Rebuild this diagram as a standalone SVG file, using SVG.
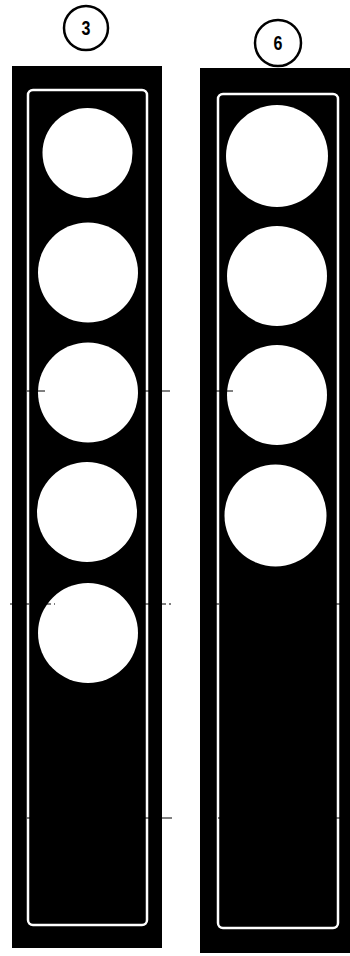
<svg xmlns="http://www.w3.org/2000/svg" width="350" height="956" viewBox="0 0 350 956">
<style>
.bg{fill:#fff}
.panel{fill:#000}
.frame{fill:none;stroke:#fff;stroke-width:2.5}
.hole{fill:#fff}
.lbl{fill:none;stroke:#000;stroke-width:2.5}
.num{font-family:"Liberation Sans",Arial,sans-serif;font-weight:bold;font-size:20px;fill:#000;text-anchor:middle}
.mark{stroke:#000;stroke-width:1}
.markw{stroke:#fff;stroke-width:1}
</style>
<rect class="bg" x="0" y="0" width="350" height="956"/>
<g id="label-3">
<circle class="lbl" cx="86" cy="28" r="22"/>
<text class="num" x="86" y="35" transform="translate(86 0) scale(0.8 1) translate(-86 0)">3</text>
</g>
<g id="label-6">
<circle class="lbl" cx="278" cy="43" r="23"/>
<text class="num" x="278" y="50" transform="translate(278 0) scale(0.8 1) translate(-278 0)">6</text>
</g>
<g id="panel-3">
<rect class="panel" x="12" y="66" width="150" height="882"/>
<rect class="frame" x="28" y="90" width="119" height="835" rx="5"/>
<circle class="hole" cx="87.5" cy="153" r="45"/>
<circle class="hole" cx="88" cy="272.5" r="50"/>
<circle class="hole" cx="88" cy="392.5" r="50"/>
<circle class="hole" cx="87" cy="512" r="50"/>
<circle class="hole" cx="88" cy="633" r="50"/>
</g>
<g id="panel-6">
<rect class="panel" x="200" y="68" width="150" height="885"/>
<rect class="frame" x="218" y="94" width="120" height="834" rx="5"/>
<circle class="hole" cx="277" cy="156" r="51"/>
<circle class="hole" cx="277" cy="276" r="50"/>
<circle class="hole" cx="277" cy="395" r="50"/>
<circle class="hole" cx="275.5" cy="515.5" r="51"/>
</g>
<g id="connectors">
<line class="mark" x1="27" y1="391" x2="45" y2="391"/>
<line class="mark" x1="143" y1="391" x2="170" y2="391"/>
<line class="mark" x1="200" y1="391" x2="233" y2="391"/>
<line class="mark" x1="10" y1="604" x2="55" y2="604" stroke-dasharray="8 3"/>
<line class="mark" x1="130" y1="604" x2="171" y2="604" stroke-dasharray="10 3"/>
<line class="mark" x1="200" y1="604" x2="228" y2="604" stroke-dasharray="8 3"/>
<line class="mark" x1="335" y1="604" x2="345" y2="604"/>
<line class="mark" x1="27" y1="818" x2="30" y2="818"/>
<line class="mark" x1="143" y1="818" x2="172" y2="818"/>
<line class="mark" x1="218" y1="818" x2="221" y2="818"/>
<line class="mark" x1="336" y1="818" x2="340" y2="818"/>
</g>
</svg>
